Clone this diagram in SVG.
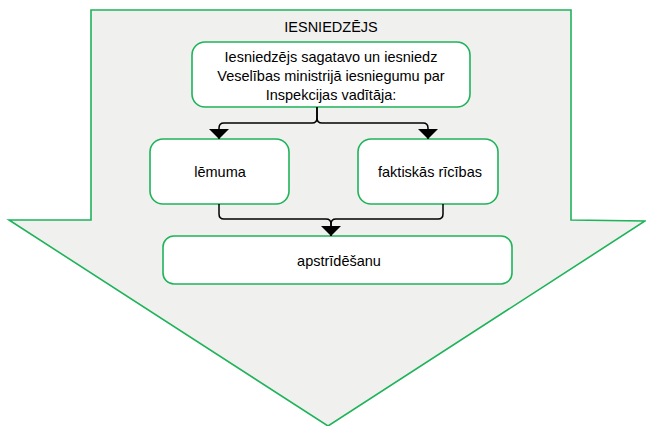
<svg xmlns="http://www.w3.org/2000/svg" width="646" height="426" viewBox="0 0 646 426">
<style>
.box{fill:#ffffff;stroke:#1fb35a;stroke-width:1.6}
.t{font-family:"Liberation Sans",Arial,sans-serif;font-size:14.5px;fill:#000;text-anchor:middle}
.c{fill:none;stroke:#000;stroke-width:1.5}
</style>
<defs>
<marker id="ah" viewBox="0 0 10 20" refX="10" refY="10" markerWidth="10" markerHeight="20" markerUnits="userSpaceOnUse" orient="auto">
<path d="M0,0 L10,10 L0,20 Z" fill="#000"/>
</marker>
</defs>
<g id="bigarrow">
<path d="M91,10 L571,10 L571,220 L645,221 L328,426 L9,220 L91,220 Z" fill="#f0f0ee" stroke="#1fb35a" stroke-width="1.6"/>
<text class="t" x="331" y="32">IESNIEDZĒJS</text>
</g>
<g id="n1">
<rect class="box" x="192" y="42" width="278" height="65" rx="13"/>
<text class="t" x="331" y="62">Iesniedzējs sagatavo un iesniedz</text>
<text class="t" x="331" y="81">Veselības ministrijā iesniegumu par</text>
<text class="t" x="331" y="100">Inspekcijas vadītāja:</text>
</g>
<g id="n2">
<rect class="box" x="150" y="139" width="139" height="65" rx="13"/>
<text class="t" x="220" y="177">lēmuma</text>
</g>
<g id="n3">
<rect class="box" x="358" y="139" width="140" height="65" rx="13"/>
<text class="t" x="430" y="177">faktiskās rīcības</text>
</g>
<g id="n4">
<rect class="box" x="163" y="236" width="349" height="48" rx="11"/>
<text class="t" x="339" y="266">apstrīdēšanu</text>
</g>
<g id="connectors">
<path class="c" d="M317,107 L317,118 Q317,123 312,123 L224,123 Q219,123 219,128 L219,139" marker-end="url(#ah)"/>
<path class="c" d="M317,107 L317,118 Q317,123 322,123 L423,123 Q428,123 428,128 L428,139" marker-end="url(#ah)"/>
<path class="c" d="M219,204 L219,214 Q219,219 224,219 L326,219 Q331,219 331,224 L331,236" marker-end="url(#ah)"/>
<path class="c" d="M443,204 L443,214 Q443,219 438,219 L336,219 Q331,219 331,224 L331,236"/>
</g>
</svg>
